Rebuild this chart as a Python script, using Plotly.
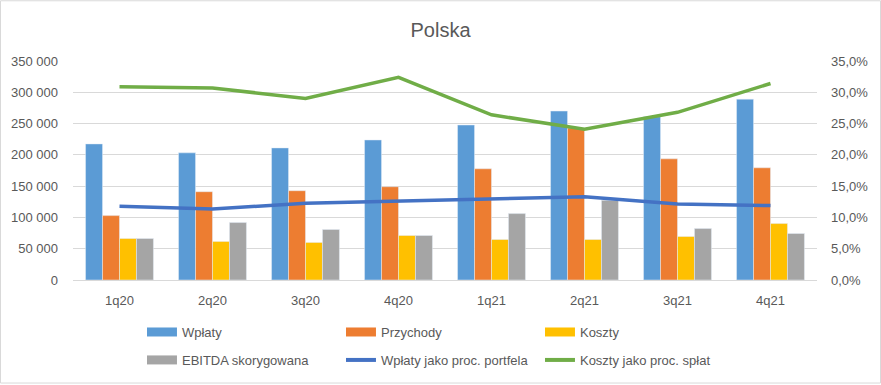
import plotly.graph_objects as go

categories = ["1q20", "2q20", "3q20", "4q20", "1q21", "2q21", "3q21", "4q21"]
wplaty = [217500, 203200, 211100, 223800, 247700, 270000, 261000, 289000]
przychody = [102900, 141100, 142700, 149100, 177700, 243000, 193600, 179300]
koszty = [66300, 61600, 60000, 71100, 64700, 64700, 69500, 90200]
ebitda = [66300, 91800, 80700, 71100, 106100, 127300, 82200, 74300]
wplaty_proc = [0.118, 0.1136, 0.1225, 0.1257, 0.130, 0.133, 0.1215, 0.119]
koszty_proc = [0.309, 0.307, 0.290, 0.324, 0.264, 0.241, 0.268, 0.314]

bar_names = ["Wpłaty", "Przychody", "Koszty", "EBITDA skorygowana"]
bar_values = [wplaty, przychody, koszty, ebitda]
bar_colors = ["#5B9BD5", "#ED7D31", "#FFC000", "#A5A5A5"]
line_names = ["Wpłaty jako proc. portfela", "Koszty jako proc. spłat"]
line_values = [wplaty_proc, koszty_proc]
line_colors = ["#4472C4", "#70AD47"]

grey_txt = "#595959"
font_fam = "Liberation Sans, Arial, sans-serif"

fig = go.Figure()
for n, v, c in zip(bar_names, bar_values, bar_colors):
    fig.add_trace(go.Bar(x=categories, y=v, name=n, marker_color=c, showlegend=False))
for n, v, c in zip(line_names, line_values, line_colors):
    fig.add_trace(go.Scatter(x=categories, y=v, name=n, mode="lines",
                             line=dict(color=c, width=3.5), yaxis="y2", showlegend=False))

# legend entries (Excel-like wide swatches)
legend_items = list(zip(bar_names, bar_colors, [9] * 4)) + list(zip(line_names, line_colors, [4] * 2))
for i, (n, c, w) in enumerate(legend_items):
    fig.add_trace(go.Scatter(x=[None], y=[None], name=n, mode="lines",
                             line=dict(color=c, width=w), showlegend=True,
                             legend="legend" if i < 3 else "legend2"))

leg_common = dict(orientation="h", xanchor="left", yanchor="middle",
                  entrywidth=154, entrywidthmode="pixels", traceorder="normal",
                  font=dict(size=13, color=grey_txt, family=font_fam),
                  bgcolor="rgba(0,0,0,0)")

fig.update_layout(
    width=881, height=385,
    margin=dict(l=73, r=64, t=61, b=104),
    paper_bgcolor="white", plot_bgcolor="white",
    separators=", ",
    font=dict(family=font_fam, size=13, color=grey_txt),
    title=dict(text="Polska", x=0.5, xanchor="center", y=0.922, yanchor="middle",
               font=dict(size=20, color=grey_txt, family=font_fam)),
    barmode="group", bargap=0.27, bargroupgap=0,
    xaxis=dict(showgrid=False, showline=False, ticks="", ticklabelstandoff=11,
               tickfont=dict(size=13, color=grey_txt)),
    yaxis=dict(range=[0, 350000], dtick=50000, tickformat=",.0f", gridcolor="#D9D9D9",
               gridwidth=1, zeroline=True, zerolinecolor="#D9D9D9", zerolinewidth=1,
               showline=False, ticks="", ticklabelstandoff=14,
               tickfont=dict(size=13, color=grey_txt)),
    yaxis2=dict(range=[0, 0.35], dtick=0.05, tickformat=".1%", overlaying="y", side="right",
                showgrid=False, zeroline=False, showline=False, ticks="", ticklabelstandoff=13,
                tickfont=dict(size=13, color=grey_txt)),
    legend=dict(x=0.0927, y=-0.232, **leg_common),
    legend2=dict(x=0.0927, y=-0.359, **leg_common),
    shapes=[dict(type="rect", xref="paper", yref="paper", x0=-72.5/744, x1=1 + 63.5/744,
                 y0=-103.5/220, y1=1 + 60.5/220, line=dict(color="#D9D9D9", width=1),
                 fillcolor="rgba(0,0,0,0)", layer="below")],
)

fig.write_html("out.html", config={"displayModeBar": False},
               post_script="document.body.style.margin='0';")
